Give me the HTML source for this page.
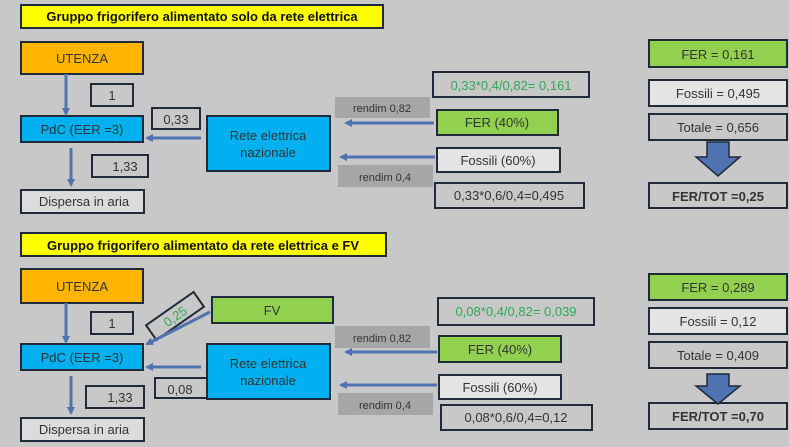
<!DOCTYPE html>
<html><head><meta charset="utf-8"><style>
html,body{margin:0;padding:0;background:#c8c8c8;}
svg{display:block;font-family:"Liberation Sans",sans-serif;}
text{font-size:13px;fill:#333;}
</style></head><body>
<svg width="789" height="447" viewBox="0 0 789 447" xmlns="http://www.w3.org/2000/svg">
<defs>
<marker id="a" markerWidth="8" markerHeight="8" refX="6" refY="4" orient="auto" markerUnits="userSpaceOnUse">
<path d="M0,0 L8,4 L0,8 Z" fill="#4f73b0"/></marker>
</defs>
<rect width="789" height="447" fill="#c8c8c8"/>
<g stroke="#1f2a3a" stroke-width="2">
<!-- top -->
<rect x="21" y="5" width="362" height="23" fill="#ffff00"/>
<rect x="21" y="42" width="122" height="32" fill="#ffb400"/>
<rect x="91" y="84" width="42" height="22" fill="none"/>
<rect x="21" y="116" width="122" height="26" fill="#00b0f0"/>
<rect x="152" y="108" width="48" height="21" fill="none"/>
<rect x="207" y="116" width="123" height="55" fill="#00b0f0"/>
<rect x="92" y="155" width="56" height="22" fill="none"/>
<rect x="21" y="190" width="123" height="23" fill="#dcdcdc"/>
<rect x="433" y="72" width="156" height="25" fill="none"/>
<rect x="437" y="110" width="121" height="25" fill="#92d050"/>
<rect x="437" y="148" width="123" height="24" fill="#e4e4e4"/>
<rect x="435" y="183" width="149" height="25" fill="none"/>
<rect x="649" y="40" width="138" height="27" fill="#92d050"/>
<rect x="649" y="80" width="138" height="26" fill="#e4e4e4"/>
<rect x="649" y="114" width="138" height="26" fill="none"/>
<rect x="649" y="183" width="138" height="25" fill="none"/>
<!-- bottom -->
<rect x="21" y="233" width="365" height="23" fill="#ffff00"/>
<rect x="21" y="269" width="122" height="34" fill="#ffb400"/>
<rect x="91" y="312" width="42" height="22" fill="none"/>
<rect x="21" y="344" width="122" height="26" fill="#00b0f0"/>
<rect x="155" y="378" width="52" height="20" fill="none"/>
<rect x="207" y="344" width="123" height="55" fill="#00b0f0"/>
<rect x="212" y="297" width="121" height="26" fill="#92d050"/>
<rect x="86" y="386" width="58" height="22" fill="none"/>
<rect x="21" y="418" width="123" height="23" fill="#dcdcdc"/>
<rect x="438" y="298" width="156" height="27" fill="none"/>
<rect x="439" y="336" width="122" height="26" fill="#92d050"/>
<rect x="439" y="375" width="122" height="24" fill="#e4e4e4"/>
<rect x="441" y="405" width="151" height="25" fill="none"/>
<rect x="649" y="274" width="138" height="26" fill="#92d050"/>
<rect x="649" y="308" width="138" height="26" fill="#e4e4e4"/>
<rect x="649" y="342" width="138" height="26" fill="none"/>
<rect x="649" y="403" width="138" height="26" fill="none"/>
<rect x="-29" y="-9" width="58" height="18" fill="none" transform="translate(175,316) rotate(-35)"/>
</g>
<g fill="#a6a6a6">
<rect x="335" y="97" width="95" height="21"/>
<rect x="338" y="165" width="95" height="22"/>
<rect x="335" y="326" width="95" height="22"/>
<rect x="338" y="393" width="95" height="22"/>
</g>
<g stroke="#4f73b0" stroke-width="3" marker-end="url(#a)">
<line x1="66" y1="74" x2="66" y2="114"/>
<line x1="71" y1="148" x2="71" y2="185"/>
<line x1="201" y1="138" x2="147" y2="138"/>
<line x1="434" y1="123" x2="346" y2="123"/>
<line x1="435" y1="157" x2="341" y2="157"/>
<line x1="66" y1="303" x2="66" y2="342"/>
<line x1="71" y1="376" x2="71" y2="413"/>
<line x1="201" y1="367" x2="147" y2="367"/>
<line x1="210" y1="312" x2="147" y2="344"/>
<line x1="437" y1="352" x2="346" y2="352"/>
<line x1="437" y1="385" x2="341" y2="385"/>
</g>
<g fill="#4f73b0" stroke="#1f2a3a" stroke-width="1.5">
<path d="M707,142 H729 V157 H740 L718,176 L696,157 H707 Z"/>
<path d="M707,374 H729 V386 H740 L718,404 L696,386 H707 Z"/>
</g>
<g text-anchor="middle">
<text x="202" y="21" style="font-weight:bold;font-size:13px;fill:#111">Gruppo frigorifero alimentato solo da rete elettrica</text>
<text x="82" y="63">UTENZA</text>
<text x="112" y="100">1</text>
<text x="82" y="134">PdC (EER =3)</text>
<text x="176" y="124">0,33</text>
<text x="268" y="140">Rete elettrica</text>
<text x="268" y="157">nazionale</text>
<text x="125" y="171">1,33</text>
<text x="84" y="206">Dispersa in aria</text>
<text x="511" y="90" style="fill:#2eaa55">0,33*0,4/0,82= 0,161</text>
<text x="382" y="112" style="font-size:11px">rendim 0,82</text>
<text x="497" y="127">FER (40%)</text>
<text x="498" y="165">Fossili (60%)</text>
<text x="385" y="181" style="font-size:11px">rendim 0,4</text>
<text x="509" y="200">0,33*0,6/0,4=0,495</text>
<text x="718" y="59">FER = 0,161</text>
<text x="718" y="98">Fossili = 0,495</text>
<text x="718" y="132">Totale = 0,656</text>
<text x="718" y="201" style="font-weight:bold">FER/TOT =0,25</text>
<text x="203" y="250" style="font-weight:bold;font-size:13px;fill:#111">Gruppo frigorifero alimentato da rete elettrica e FV</text>
<text x="82" y="291">UTENZA</text>
<text x="112" y="328">1</text>
<text x="82" y="362">PdC (EER =3)</text>
<text x="180" y="394">0,08</text>
<text x="268" y="368">Rete elettrica</text>
<text x="268" y="385">nazionale</text>
<text x="272" y="315">FV</text>
<text x="120" y="402">1,33</text>
<text x="84" y="434">Dispersa in aria</text>
<text x="516" y="316" style="fill:#2eaa55">0,08*0,4/0,82= 0,039</text>
<text x="382" y="342" style="font-size:11px">rendim 0,82</text>
<text x="500" y="354">FER (40%)</text>
<text x="500" y="392">Fossili (60%)</text>
<text x="385" y="409" style="font-size:11px">rendim 0,4</text>
<text x="516" y="422">0,08*0,6/0,4=0,12</text>
<text x="718" y="292">FER = 0,289</text>
<text x="718" y="326">Fossili = 0,12</text>
<text x="718" y="360">Totale = 0,409</text>
<text x="718" y="421" style="font-weight:bold">FER/TOT =0,70</text>
<text x="0" y="5" transform="translate(175,316) rotate(-35)" style="fill:#2eaa55">0,25</text>
</g>
</svg>
</body></html>
